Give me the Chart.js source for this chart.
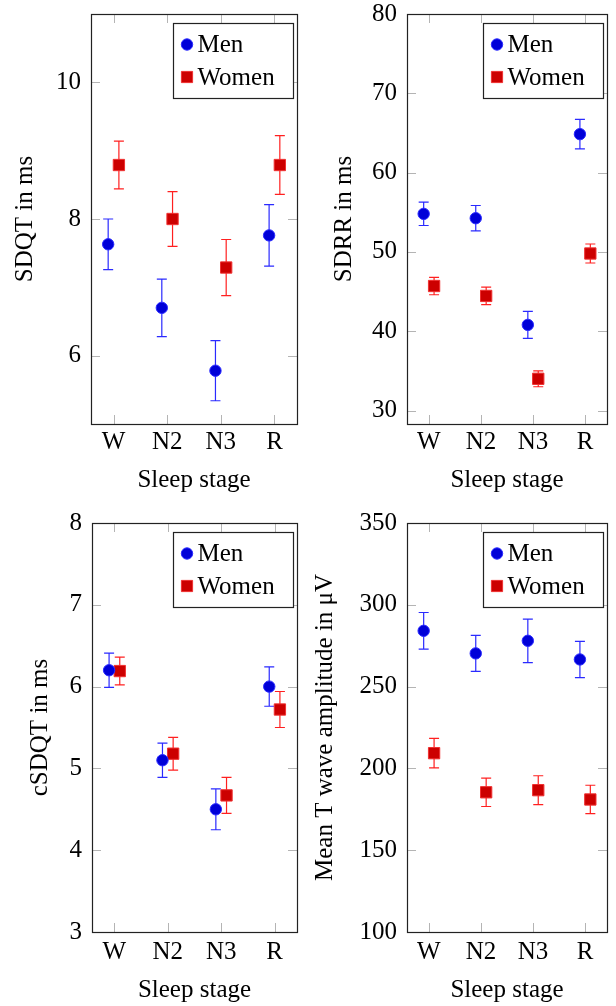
<!DOCTYPE html>
<html lang="en">
<head>
    <meta charset="UTF-8">
    <title>Sleep stage comparison</title>
    <script src="https://cdn.jsdelivr.net/npm/chart.js"></script>
    <style>
        body { margin: 0; background: #fff; }
        #wrap { position: relative; width: 616px; height: 1006px; }
        canvas { position: absolute; }
    </style>
</head>
<body>
    <div id="wrap">
        <canvas id="sdqtChart" width="308" height="500" style="left:0;top:0;"></canvas>
        <canvas id="sdrrChart" width="308" height="500" style="left:308px;top:0;"></canvas>
        <canvas id="csdqtChart" width="308" height="506" style="left:0;top:500px;"></canvas>
        <canvas id="twaChart" width="308" height="506" style="left:308px;top:500px;"></canvas>
    </div>

    <script>
        // Data
        const stages = ['W', 'N2', 'N3', 'R'];
        const seriesNames = ['Men', 'Women'];

        const sdqtMen = [7.63, 6.70, 5.78, 7.76];
        const sdqtMenErr = [0.37, 0.42, 0.44, 0.45];
        const sdqtWomen = [8.79, 8.00, 7.29, 8.79];
        const sdqtWomenErr = [0.35, 0.40, 0.41, 0.43];
        const sdqtTicks = [6, 8, 10];

        const sdrrMen = [54.8, 54.25, 40.8, 64.85];
        const sdrrMenErr = [1.47, 1.6, 1.7, 1.87];
        const sdrrWomen = [45.7, 44.45, 34.0, 49.8];
        const sdrrWomenErr = [1.1, 1.1, 1.0, 1.2];
        const sdrrTicks = [30, 40, 50, 60, 70, 80];

        const csdqtMen = [6.20, 5.10, 4.50, 6.00];
        const csdqtMenErr = [0.21, 0.21, 0.25, 0.24];
        const csdqtWomen = [6.19, 5.18, 4.67, 5.72];
        const csdqtWomenErr = [0.17, 0.20, 0.22, 0.22];
        const csdqtTicks = [3, 4, 5, 6, 7, 8];

        const twaMen = [284.1, 270.3, 278.0, 266.6];
        const twaMenErr = [11.2, 11.0, 13.3, 11.1];
        const twaWomen = [209.3, 185.4, 186.7, 181.0];
        const twaWomenErr = [9.0, 8.7, 8.8, 8.7];
        const twaTicks = [100, 150, 200, 250, 300, 350];

        const FONT = "'Liberation Serif', 'DejaVu Serif', serif";
        const MEN_FILL = '#0000d8', MEN_LINE = '#2a2aff';
        const WOMEN_FILL = '#cc0000', WOMEN_LINE = '#f03030';

        // frame, inner tick marks, error bars and the boxed legend
        const pgfStyle = {
            id: 'pgfStyle',
            beforeDatasetsDraw(chart) {
                const ctx = chart.ctx;
                const a = chart.chartArea;
                const xs = chart.scales.x, ys = chart.scales.y;
                ctx.save();
                ctx.strokeStyle = '#b4b4b4';
                ctx.lineWidth = 1;
                ctx.beginPath();
                ys.ticks.forEach(t => {
                    const py = Math.round(ys.getPixelForValue(t.value)) + 0.5;
                    ctx.moveTo(a.left, py); ctx.lineTo(a.left + 9, py);
                    ctx.moveTo(a.right, py); ctx.lineTo(a.right - 9, py);
                });
                xs.ticks.forEach(t => {
                    const px = Math.round(xs.getPixelForValue(t.value)) + 0.5;
                    ctx.moveTo(px, a.bottom); ctx.lineTo(px, a.bottom - 9);
                    ctx.moveTo(px, a.top); ctx.lineTo(px, a.top + 9);
                });
                ctx.stroke();

                // error bars
                chart.data.datasets.forEach((ds, i) => {
                    const meta = chart.getDatasetMeta(i);
                    ctx.strokeStyle = ds.errColor;
                    ctx.lineWidth = 1.2;
                    ctx.beginPath();
                    meta.data.forEach((el, j) => {
                        const v = ds.data[j].y, e = ds.errors[j];
                        const y1 = ys.getPixelForValue(v + e);
                        const y2 = ys.getPixelForValue(v - e);
                        ctx.moveTo(el.x, y1); ctx.lineTo(el.x, y2);
                        ctx.moveTo(el.x - 5, y1); ctx.lineTo(el.x + 5, y1);
                        ctx.moveTo(el.x - 5, y2); ctx.lineTo(el.x + 5, y2);
                    });
                    ctx.stroke();
                });
                ctx.restore();
            },
            afterDatasetsDraw(chart) {
                const ctx = chart.ctx;
                const a = chart.chartArea;
                ctx.save();
                ctx.strokeStyle = '#222';
                ctx.lineWidth = 1.2;
                ctx.strokeRect(Math.round(a.left) + 0.5, Math.round(a.top) + 0.5,
                    Math.round(a.right - a.left), Math.round(a.bottom - a.top));

                // legend box
                const bw = 120, bh = 75;
                const bx = Math.round(a.right - 4.5 - bw) + 0.5, by = Math.round(a.top + 9) + 0.5;
                ctx.fillStyle = '#fff';
                ctx.fillRect(bx, by, bw, bh);
                ctx.strokeStyle = '#222';
                ctx.strokeRect(bx, by, bw, bh);
                ctx.font = '25px ' + FONT;
                ctx.textBaseline = 'middle';
                chart.data.datasets.forEach((ds, i) => {
                    const cy = by + 21 + i * 32.5;
                    const cx = bx + 13.5;
                    ctx.fillStyle = ds.backgroundColor;
                    ctx.strokeStyle = ds.borderColor;
                    ctx.lineWidth = 1;
                    ctx.beginPath();
                    if (ds.pointStyle === 'circle') {
                        ctx.arc(cx, cy, 5.7, 0, Math.PI * 2);
                    } else {
                        ctx.rect(cx - 5.6, cy - 5.6, 11.2, 11.2);
                    }
                    ctx.fill(); ctx.stroke();
                    ctx.fillStyle = '#000';
                    ctx.fillText(ds.label, bx + 24, cy + 1);
                });
                ctx.restore();
            }
        };

        function makeChart(id, cfg) {
            const toPoints = (vals, dx) => vals.map((v, i) => ({ x: i + 1 + dx, y: v }));
            new Chart(document.getElementById(id).getContext('2d'), {
                type: 'scatter',
                data: {
                    datasets: [{
                        label: seriesNames[0],
                        data: toPoints(cfg.men, -0.1),
                        errors: cfg.menErr,
                        pointStyle: 'circle',
                        pointRadius: 5.7,
                        backgroundColor: MEN_FILL,
                        borderColor: MEN_LINE,
                        borderWidth: 1,
                        errColor: MEN_LINE
                    }, {
                        label: seriesNames[1],
                        data: toPoints(cfg.women, 0.1),
                        errors: cfg.womenErr,
                        pointStyle: 'rect',
                        pointRadius: 8,
                        backgroundColor: WOMEN_FILL,
                        borderColor: WOMEN_LINE,
                        borderWidth: 1,
                        errColor: '#ff2020'
                    }]
                },
                options: {
                    responsive: false,
                    animation: false,
                    events: [],
                    layout: { padding: cfg.padding },
                    plugins: { legend: { display: false }, tooltip: { enabled: false } },
                    scales: {
                        x: {
                            type: 'linear',
                            min: 0.58,
                            max: 4.42,
                            grid: { display: false, drawTicks: false },
                            border: { display: false },
                            afterBuildTicks: s => { s.ticks = stages.map((_, i) => ({ value: i + 1 })); },
                            afterFit: s => {
                                s.height = cfg.xHeight;
                                s.paddingLeft = 0; s.paddingRight = 0;
                            },
                            ticks: {
                                padding: cfg.xPad,
                                color: '#000',
                                font: { family: FONT, size: 25 },
                                callback: v => stages[v - 1]
                            },
                            title: {
                                display: true,
                                text: 'Sleep stage',
                                color: '#000',
                                font: { family: FONT, size: 25 },
                                padding: { top: 0, bottom: cfg.xTitlePad }
                            }
                        },
                        y: {
                            min: cfg.yMin,
                            max: cfg.yMax,
                            grid: { display: false, drawTicks: false },
                            border: { display: false },
                            afterBuildTicks: s => { s.ticks = cfg.ticks.map(v => ({ value: v })); },
                            afterFit: s => {
                                s.width = cfg.yWidth;
                                s.paddingTop = 0; s.paddingBottom = 0;
                            },
                            ticks: {
                                padding: 10,
                                color: '#000',
                                font: { family: FONT, size: 25 }
                            },
                            title: {
                                display: true,
                                text: cfg.yTitle,
                                color: '#000',
                                font: { family: FONT, size: 25 },
                                padding: { top: cfg.yTitlePad, bottom: 0 }
                            }
                        }
                    }
                },
                plugins: [pgfStyle]
            });
        }

        makeChart('sdqtChart', {
            men: sdqtMen, menErr: sdqtMenErr, women: sdqtWomen, womenErr: sdqtWomenErr,
            ticks: sdqtTicks, yMin: 5, yMax: 11, yTitle: 'SDQT in ms',
            padding: { top: 14, right: 11, left: 0, bottom: 0 },
            yWidth: 91, xHeight: 76, xPad: 3, xTitlePad: 5, yTitlePad: 10
        });
        makeChart('sdrrChart', {
            men: sdrrMen, menErr: sdrrMenErr, women: sdrrWomen, womenErr: sdrrWomenErr,
            ticks: sdrrTicks, yMin: 28.3, yMax: 80, yTitle: 'SDRR in ms',
            padding: { top: 14, right: 3, left: 0, bottom: 0 },
            yWidth: 99, xHeight: 76, xPad: 3, xTitlePad: 5, yTitlePad: 21
        });
        makeChart('csdqtChart', {
            men: csdqtMen, menErr: csdqtMenErr, women: csdqtWomen, womenErr: csdqtWomenErr,
            ticks: csdqtTicks, yMin: 3, yMax: 8, yTitle: 'cSDQT in ms',
            padding: { top: 23, right: 11, left: 0, bottom: 0 },
            yWidth: 92, xHeight: 74, xPad: 5, xTitlePad: 1, yTitlePad: 25
        });
        makeChart('twaChart', {
            men: twaMen, menErr: twaMenErr, women: twaWomen, womenErr: twaWomenErr,
            ticks: twaTicks, yMin: 100, yMax: 350, yTitle: 'Mean T wave amplitude in μV',
            padding: { top: 23, right: 4, left: 0, bottom: 0 },
            yWidth: 99, xHeight: 74, xPad: 5, xTitlePad: 1, yTitlePad: 2
        });
    </script>
</body>
</html>
